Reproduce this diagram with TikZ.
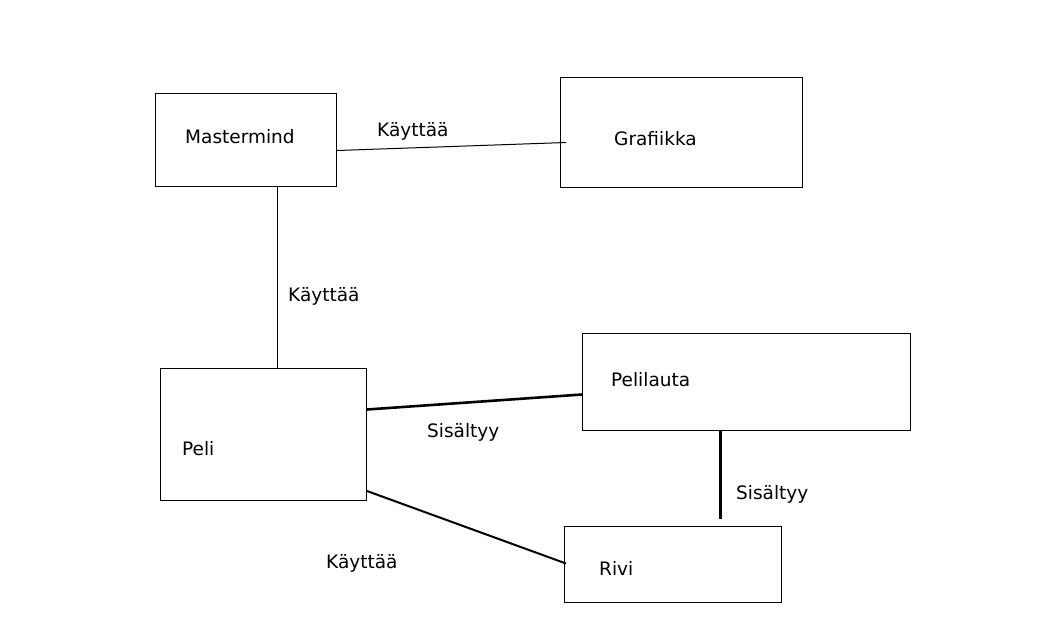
\documentclass[tikz,border=0pt]{standalone}
\usepackage{fontspec}
\setmainfont{DejaVu Sans}
\usepackage{xcolor}
\definecolor{umlblack}{RGB}{0, 0, 0}
\tikzset{
  classbox/.style={draw=umlblack, line width=1pt, inner sep=0pt, anchor=north west},
  classname/.style={anchor=base west, inner sep=0pt, font=\fontsize{18.5pt}{22pt}\selectfont},
  relname/.style={anchor=base west, inner sep=0pt, font=\fontsize{18.5pt}{22pt}\selectfont},
  thinlink/.style={draw=umlblack, line width=1pt},
  thicklink/.style={draw=umlblack, line width=2.6pt}
}

\begin{document}
\begin{tikzpicture}[x=1pt, y=-1pt]
\useasboundingbox[fill=white] (0,0) rectangle (1059,627);

% luokat
\node[classbox, minimum width=181pt, minimum height=93pt] (mastermind) at (155,93) {};
\node[classbox, minimum width=242pt, minimum height=110pt] (grafiikka) at (560,77) {};
\node[classbox, minimum width=206pt, minimum height=132pt] (peli) at (160,368) {};
\node[classbox, minimum width=328pt, minimum height=97pt] (pelilauta) at (582,333) {};
\node[classbox, minimum width=217pt, minimum height=76pt] (rivi) at (564,526) {};

\node[classname] (mastermindtxt) at (185,143) {Mastermind};
\node[classname] (grafiikkatxt) at (614,145) {Grafiikka};
\node[classname] (pelitxt) at (182,455) {Peli};
\node[classname] (pelilautatxt) at (611,386) {Pelilauta};
\node[classname] (rivitxt) at (599,575) {Rivi};

% yhteydet
\draw[thinlink] ([yshift=-10.5pt]mastermind.east) -- ([xshift=6pt,yshift=-10pt]grafiikka.west);
\draw[thinlink] ([xshift=31.5pt]mastermind.south) -- ([xshift=14pt]peli.north);
\draw[thicklink] ([yshift=25pt]peli.east) -- ([yshift=-12.5pt]pelilauta.west);
\draw[thicklink] ([xshift=-26pt]pelilauta.south) -- ([xshift=47.5pt,yshift=7pt]rivi.north);
\draw[umlblack, line width=2pt] ([yshift=10pt]peli.south east) -- ([xshift=2pt,yshift=1pt]rivi.west);

\node[relname] (kaytto1) at (377,136) {Käyttää};
\node[relname] (kaytto2) at (288,301) {Käyttää};
\node[relname] (sisalto1) at (427,437) {Sisältyy};
\node[relname] (sisalto2) at (736,499) {Sisältyy};
\node[relname] (kaytto3) at (326,568) {Käyttää};
\end{tikzpicture}
\end{document}
